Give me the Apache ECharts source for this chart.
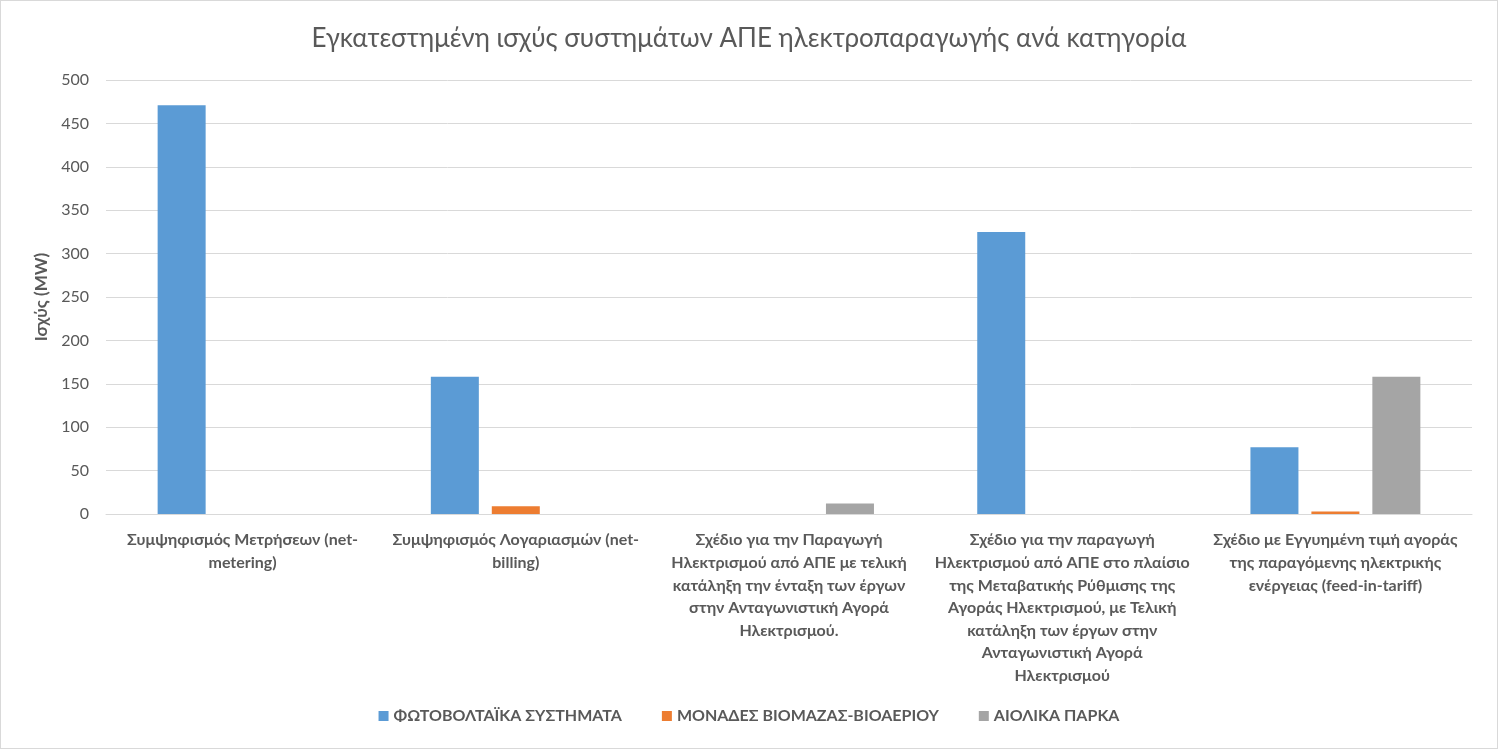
<!DOCTYPE html>
<html lang="el">
<head>
    <meta charset="UTF-8">
    <title>Εγκατεστημένη ισχύς</title>
    <script type="text/javascript" src="https://cdn.jsdelivr.net/npm/echarts@6/dist/echarts.min.js"></script>
    <style>
        html, body { margin: 0; padding: 0; background: #fff; }
        .box {
            width: 1496px;
            height: 747px;
            border: 1px solid #d9d9d9;
        }
    </style>
</head>
<body>
    <div class="box"></div>
    <script>
        // categories (line breaks as in the original labels)
        var categories = [
            'Συμψηφισμός Μετρήσεων (net-\nmetering)',
            'Συμψηφισμός Λογαριασμών (net-\nbilling)',
            'Σχέδιο για την Παραγωγή\nΗλεκτρισμού από ΑΠΕ με τελική\nκατάληξη την ένταξη των έργων\nστην Ανταγωνιστική Αγορά\nΗλεκτρισμού.',
            'Σχέδιο για την παραγωγή\nΗλεκτρισμού από ΑΠΕ στο πλαίσιο\nτης Μεταβατικής Ρύθμισης της\nΑγοράς Ηλεκτρισμού, με Τελική\nκατάληξη των έργων στην\nΑνταγωνιστική Αγορά\nΗλεκτρισμού',
            'Σχέδιο με Εγγυημένη τιμή αγοράς\nτης παραγόμενης ηλεκτρικής\nενέργειας (feed-in-tariff)'
        ]
        var seriesNames = ['ΦΩΤΟΒΟΛΤΑΪΚΑ ΣΥΣΤΗΜΑΤΑ', 'ΜΟΝΑΔΕΣ ΒΙΟΜΑΖΑΣ-ΒΙΟΑΕΡΙΟΥ', 'ΑΙΟΛΙΚΑ ΠΑΡΚΑ']
        var pvValues = [471, 158, null, 325, 77]
        var bioValues = [null, 9, null, null, 3]
        var windValues = [null, null, 12, null, 158]
        var colors = ['#5b9bd5', '#ed7d31', '#a5a5a5']

        var textColor = '#595959'
        var font = 'Lato, "Noto Sans", sans-serif'

        let chart = echarts.init(document.querySelector('.box'))

        let option = {
            color: colors,
            textStyle: { fontFamily: font },
            title: {
                text: 'Εγκατεστημένη ισχύς συστημάτων ΑΠΕ ηλεκτροπαραγωγής ανά κατηγορία',
                left: 'center',
                top: 20,
                textStyle: { color: textColor, fontSize: 26, fontWeight: 'normal', fontFamily: font }
            },
            legend: {
                data: seriesNames,
                bottom: 19,
                left: 'center',
                itemWidth: 10,
                itemHeight: 10,
                itemGap: 40,
                icon: 'rect',
                textStyle: { color: textColor, fontSize: 16, fontWeight: 'bold', fontFamily: font }
            },
            grid: {
                left: 105,
                right: 25,
                top: 79,
                bottom: 234
            },
            xAxis: {
                type: 'category',
                data: categories,
                axisLine: { lineStyle: { color: '#d9d9d9', width: 1 } },
                axisTick: { show: false },
                axisLabel: {
                    interval: 0,
                    margin: 15,
                    color: textColor,
                    fontSize: 16,
                    fontWeight: 'bold',
                    lineHeight: 22.6,
                    fontFamily: font
                }
            },
            yAxis: {
                type: 'value',
                min: 0,
                max: 500,
                interval: 50,
                name: 'Ισχύς (MW)',
                nameLocation: 'middle',
                nameGap: 54,
                nameTextStyle: { color: textColor, fontSize: 17, fontWeight: 'bold', fontFamily: font },
                axisLine: { show: false },
                axisTick: { show: false },
                axisLabel: { color: textColor, fontSize: 16, margin: 17, fontFamily: font },
                splitLine: { lineStyle: { color: '#d9d9d9', width: 1 } }
            },
            series: [
                { name: seriesNames[0], type: 'bar', data: pvValues, barWidth: 48, barGap: '27%' },
                { name: seriesNames[1], type: 'bar', data: bioValues, barWidth: 48, barGap: '27%' },
                { name: seriesNames[2], type: 'bar', data: windValues, barWidth: 48, barGap: '27%' }
            ]
        }

        chart.setOption(option)
    </script>
</body>
</html>
